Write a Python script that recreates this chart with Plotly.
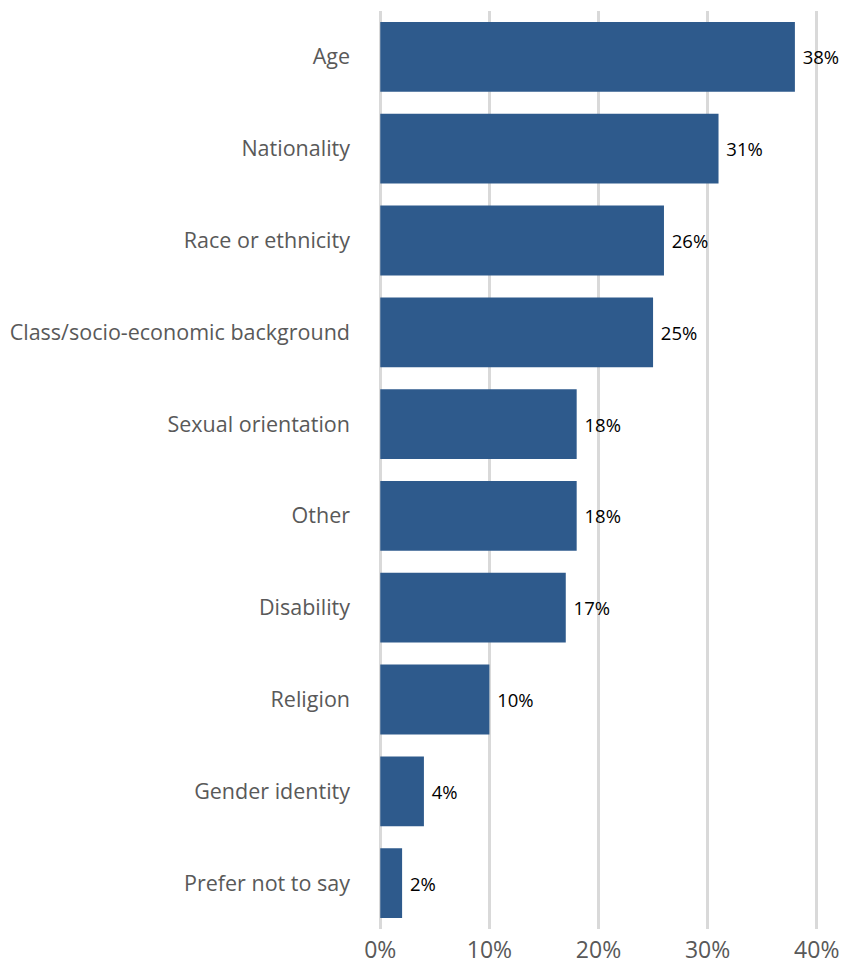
import plotly.graph_objects as go

categories = [
    "Age",
    "Nationality",
    "Race or ethnicity",
    "Class/socio-economic background",
    "Sexual orientation",
    "Other",
    "Disability",
    "Religion",
    "Gender identity",
    "Prefer not to say",
]
values = [38, 31, 26, 25, 18, 18, 17, 10, 4, 2]
x_ticks = [0, 10, 20, 30, 40]
x_tick_labels = ["0%", "10%", "20%", "30%", "40%"]

BAR_COLOR = "#2E5A8C"
GRID_COLOR = "#D9D9D9"
LABEL_GRAY = "#595959"
FONT = "Open Sans, Noto Sans, sans-serif"

fig = go.Figure(
    go.Bar(
        x=values,
        y=categories,
        orientation="h",
        marker=dict(color=BAR_COLOR, line=dict(width=0)),
        text=[f" {v}%" for v in values],
        textposition="outside",
        textfont=dict(family=FONT, size=18.5, color="#000000"),
        cliponaxis=False,
    )
)

fig.update_layout(
    width=851,
    height=966,
    margin=dict(l=377, r=31, t=11, b=37),
    paper_bgcolor="white",
    plot_bgcolor="white",
    bargap=0.24,
    showlegend=False,
    font=dict(family=FONT),
)

fig.update_xaxes(
    range=[-0.3, 40.3],
    tickvals=x_ticks,
    ticktext=x_tick_labels,
    showgrid=True,
    gridcolor=GRID_COLOR,
    gridwidth=2.5,
    zeroline=False,
    showline=False,
    tickfont=dict(family=FONT, size=23, color=LABEL_GRAY),
    ticks="",
    ticklabelstandoff=5,
    automargin=False,
)

fig.update_yaxes(
    categoryorder="array",
    categoryarray=categories[::-1],
    showgrid=False,
    showline=False,
    zeroline=False,
    ticks="",
    tickfont=dict(family=FONT, size=21.5, color=LABEL_GRAY),
    ticklabelstandoff=26,
    automargin=False,
)

fig.write_html("out.html")
